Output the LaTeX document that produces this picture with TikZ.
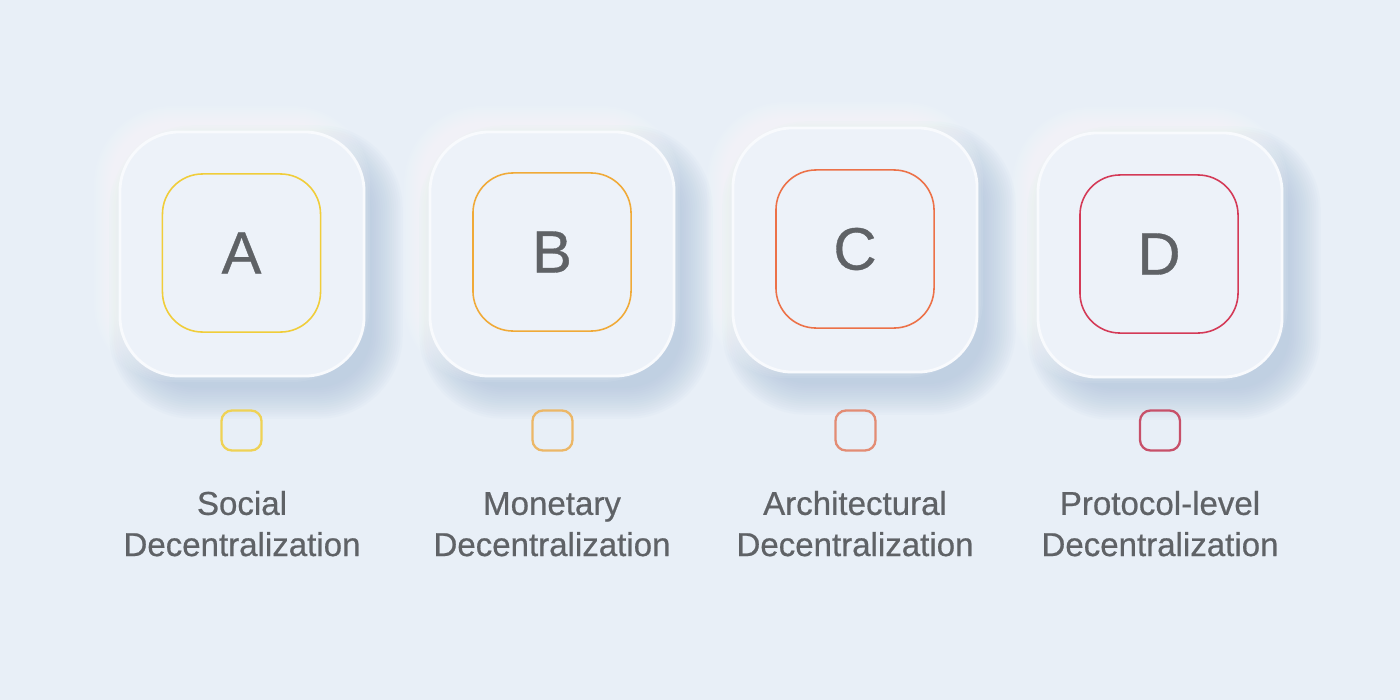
\documentclass[tikz,border=0pt]{standalone}
\usepackage{fontspec}
\setmainfont{Liberation Sans}
\newfontfamily\medfont[FakeBold=0.6]{Liberation Sans}
\definecolor{bg}{HTML}{E8EFF7}
\definecolor{face}{HTML}{EDF2F9}
\definecolor{shadowcol}{HTML}{A9BFD9}
\definecolor{txt}{HTML}{5F6266}
\definecolor{ca}{HTML}{F0CD3A}
\definecolor{cb}{HTML}{F0AA38}
\definecolor{cc}{HTML}{EC7148}
\definecolor{cd}{HTML}{D43A57}
\definecolor{sa}{HTML}{EFD255}
\definecolor{sb}{HTML}{ECB767}
\definecolor{sc}{HTML}{E38C74}
\definecolor{sd}{HTML}{C75069}
\newcommand\neushadow[2]{%
  \foreach \i in {0,...,14}{
    \pgfmathsetmacro\h{116+\i*2.2}
    \pgfmathsetmacro\r{(56+\i*2)*0.2845}
    \fill[shadowcol, opacity=0.05, rounded corners=\r pt] (#1-\h+14,#2-\h+18) rectangle (#1+\h+14,#2+\h+18);
  }
  \foreach \i in {0,...,10}{
    \pgfmathsetmacro\h{118+\i*2}
    \pgfmathsetmacro\r{(58+\i*2)*0.2845}
    \fill[white, opacity=0.07, rounded corners=\r pt] (#1-\h-10,#2-\h-10) rectangle (#1+\h-10,#2+\h-10);
  }
}
\tikzset{
  bigbox/.style={fill=face, draw=white!60!face, line width=0.8pt, minimum size=2.44cm, rounded corners=17pt, inner sep=0pt},
  letterbox/.style={fill=face, line width=0.45pt, minimum size=1.58cm, rounded corners=11.4pt, inner sep=0pt, text=txt, font=\medfont\fontsize{17}{20}\selectfont},
  smallbox/.style={line width=0.65pt, minimum size=0.40cm, rounded corners=3pt, inner sep=0pt},
  caption/.style={align=center, text=txt, font=\medfont\fontsize{9.4}{11.7}\selectfont, anchor=base}
}
\begin{document}
\begin{tikzpicture}[x=0.01cm, y=-0.01cm]
\fill[bg] (0,0) rectangle (1400,700);
\useasboundingbox (0,0) rectangle (1400,700);
\neushadow{242}{254}
\neushadow{552}{254}
\neushadow{855}{250}
\neushadow{1160}{255}
\node[bigbox] (boxA) at (242,254) {};
\node[bigbox] (boxB) at (552,254) {};
\node[bigbox] (boxC) at (855,250) {};
\node[bigbox] (boxD) at (1160,255) {};
\node[letterbox, draw=ca] (inA) at (241.5,253) {A};
\node[letterbox, draw=cb] (inB) at (552,252) {B};
\node[letterbox, draw=cc] (inC) at (855,249) {C};
\node[letterbox, draw=cd] (inD) at (1159,254) {D};
\node[smallbox, draw=sa] (sqA) at (241.5,430.5) {};
\node[smallbox, draw=sb] (sqB) at (552.5,430.5) {};
\node[smallbox, draw=sc] (sqC) at (855.5,430.5) {};
\node[smallbox, draw=sd] (sqD) at (1160,430.5) {};
\node[caption] (lbA) at (242,556) {Social\\Decentralization};
\node[caption] (lbB) at (552,556) {Monetary\\Decentralization};
\node[caption] (lbC) at (855,556) {Architectural\\Decentralization};
\node[caption] (lbD) at (1160,556) {Protocol-level\\Decentralization};
\end{tikzpicture}
\end{document}
